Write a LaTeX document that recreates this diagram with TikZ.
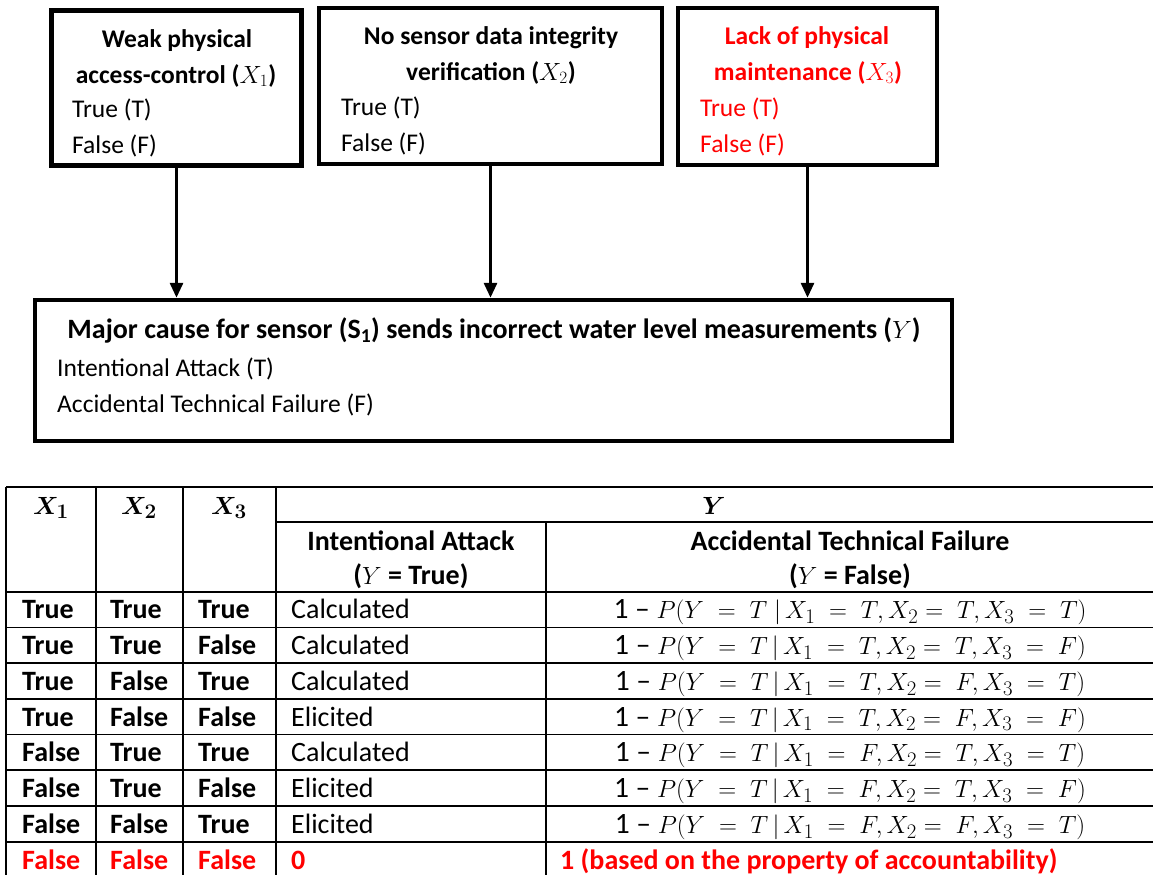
\documentclass[tikz,border=0pt]{standalone}
\usepackage{fontspec}
\setmainfont{Carlito}
\usepackage{amsmath}
\usetikzlibrary{arrows.meta}
\begin{document}
\begin{tikzpicture}[x=1pt,y=-1pt,
  box/.style={draw, line width=4.5pt, inner sep=0pt},
  bt/.style={font=\fontsize{25.5}{30}\selectfont\bfseries, inner sep=0pt},
  nt/.style={font=\fontsize{25.5}{30}\selectfont, inner sep=0pt},
  tb/.style={font=\fontsize{28}{34}\selectfont\bfseries, inner sep=0pt},
  tn/.style={font=\fontsize{28}{34}\selectfont, inner sep=0pt},
  fm/.style={font=\fontsize{29.5}{34}\selectfont, inner sep=0pt},
  arr/.style={line width=3pt, -{Triangle[length=15pt,width=13pt]}},
  gridline/.style={line width=1.5pt}
]
\useasboundingbox (0,0) rectangle (1153,875);
% boxes
\node[box, minimum width=250pt, minimum height=155pt] (b1) at (176.5,88) {};
\node[box, minimum width=343pt, minimum height=156pt] (b2) at (490.5,86) {};
\node[box, minimum width=259pt, minimum height=157pt] (b3) at (807.5,86.5) {};
\node[box, minimum width=917pt, minimum height=141pt] (by) at (493.5,370.5) {};
% box 1
\node[bt, anchor=base] (t1a) at (177,48) {Weak physical};
\node[bt, anchor=base] (t1b) at (176,83) {access-control ($X_1$)};
\node[nt, anchor=base west] (s1t) at (72,117) {True (T)};
\node[nt, anchor=base west] (s1f) at (72,153) {False (F)};
% box 2
\node[bt, anchor=base] (t2a) at (491,45) {No sensor data integrity};
\node[bt, anchor=base] (t2b) at (491,80) {verification ($X_2$)};
\node[nt, anchor=base west] (s2t) at (341,115) {True (T)};
\node[nt, anchor=base west] (s2f) at (341,151) {False (F)};
% box 3
\begin{scope}[red]
\node[bt, anchor=base] (t3a) at (807,45) {Lack of physical};
\node[bt, anchor=base] (t3b) at (808,80) {maintenance ($X_3$)};
\node[nt, anchor=base west] (s3t) at (700,116) {True (T)};
\node[nt, anchor=base west] (s3f) at (700,152) {False (F)};
\end{scope}
% main box
\node[tb, anchor=base] (ty) at (494,338) {Major cause for sensor (S\textsubscript{1}) sends incorrect water level measurements ($Y$)};
\node[nt, anchor=base west] (syt) at (57,376) {Intentional Attack (T)};
\node[nt, anchor=base west] (syf) at (57,412) {Accidental Technical Failure (F)};
% arrows
\draw[arr] (b1.south) -- (b1.south |- by.north);
\draw[arr] (b2.south) -- (b2.south |- by.north);
\draw[arr] (b3.south) -- (b3.south |- by.north);
% table grid
\foreach \yy in {487,592,627.5,663,699,734.5,770,806,842}
  \draw[gridline] (6,\yy) -- (1153,\yy);
\draw[gridline] (276,522) -- (1153,522);
\foreach \xx in {6,96,183,276}
  \draw[gridline] (\xx,487) -- (\xx,875);
\draw[gridline] (546,522) -- (546,875);
% header
\node[tb, font=\fontsize{30}{34}\selectfont, anchor=base] (hxa) at (51,514) {$\boldsymbol{X_1}$};
\node[tb, font=\fontsize{30}{34}\selectfont, anchor=base] (hxb) at (139,514) {$\boldsymbol{X_2}$};
\node[tb, font=\fontsize{30}{34}\selectfont, anchor=base] (hxc) at (229,514) {$\boldsymbol{X_3}$};
\node[tb, font=\fontsize{30}{34}\selectfont, anchor=base] (hy) at (714,514) {$\boldsymbol{Y}$};
\node[tb, anchor=base] (hia) at (411,550) {Intentional Attack};
\node[tb, anchor=base] (hib) at (411,584) {($Y$ = True)};
\node[tb, anchor=base] (hfa) at (850,550) {Accidental Technical Failure};
\node[tb, anchor=base] (hfb) at (850,584) {($Y$ = False)};
% data rows
\foreach \i/\a/\b/\c/\d/\p/\q/\r/\s in {
  1/True/True/True/Calculated/T/T/T/{\;},
  2/True/True/False/Calculated/T/T/F/{\,},
  3/True/False/True/Calculated/T/F/T/{\,},
  4/True/False/False/Elicited/T/F/F/{\,},
  5/False/True/True/Calculated/F/T/T/{\,},
  6/False/True/False/Elicited/F/T/F/{\,},
  7/False/False/True/Elicited/F/F/T/{\,}}{
  \pgfmathsetmacro{\yb}{592+35.75*(\i-0.5)+9}
  \node[tb, anchor=base west] (r\i a) at (22,\yb) {\a};
  \node[tb, anchor=base west] (r\i b) at (110,\yb) {\b};
  \node[tb, anchor=base west] (r\i c) at (198,\yb) {\c};
  \node[tn, anchor=base west] (r\i d) at (291,\yb) {\d};
  \node[fm, anchor=base] (r\i e) at (850,\yb) {1 -- $P(Y\;=\;T\s|\,X_1\;=\;\p, X_2 =\;\q, X_3\;=\;\r)$};
}
\begin{scope}[red]
\node[tb, anchor=base west] (r8a) at (22,869) {False};
\node[tb, anchor=base west] (r8b) at (110,869) {False};
\node[tb, anchor=base west] (r8c) at (198,869) {False};
\node[tb, anchor=base west] (r8d) at (291,869) {0};
\node[tb, anchor=base west] (r8e) at (560,869) {1 (based on the property of accountability)};
\end{scope}
\end{tikzpicture}
\end{document}
